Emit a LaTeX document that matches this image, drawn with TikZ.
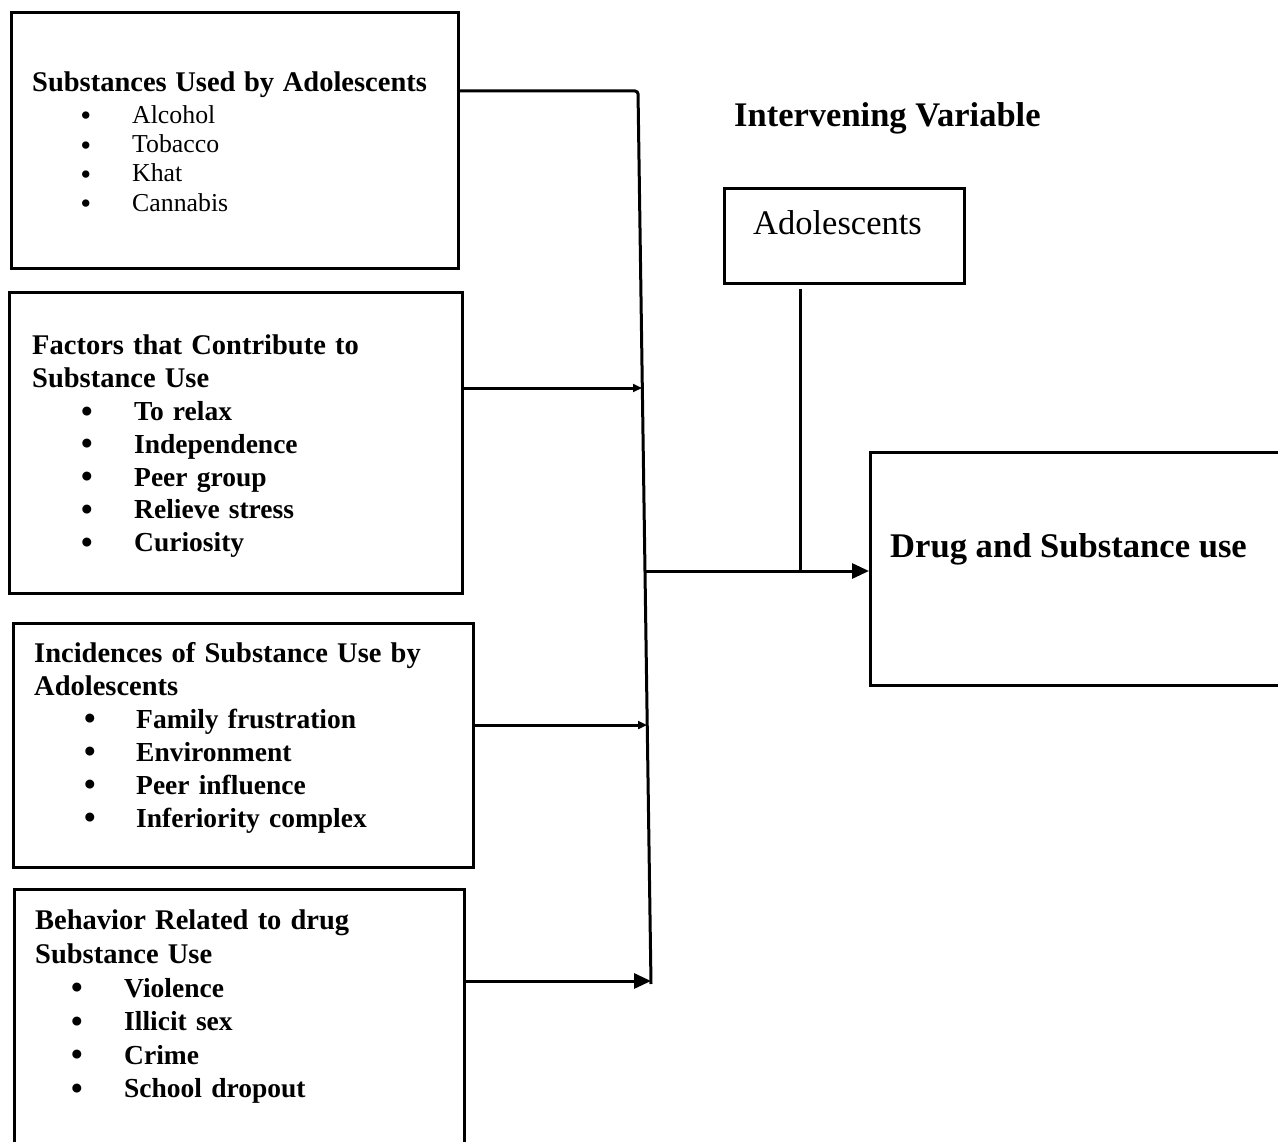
\documentclass[tikz,border=0pt]{standalone}
\usepackage{fontspec}
\setmainfont{Liberation Serif}
\usetikzlibrary{arrows.meta}

% heading line and bullet line of a list
\newcommand{\hdg}[1]{{\fontsize{28.5}{30}\selectfont\bfseries #1}}
\newcommand{\itm}[4][33]{\hspace*{#2pt}\makebox[#3pt][l]{\raisebox{-1.5pt}{\fontsize{#1}{#1}\selectfont\bfseries\textbullet}}#4}

\begin{document}
\begin{tikzpicture}[
        x=1pt, y=-1pt,
        frameBox/.style={
            draw,
            line width=2.6pt,
            inner sep=0pt,
            anchor=north west
        },
        listText/.style={
            anchor=north west,
            inner sep=0pt,
            align=left,
            text width=420pt
        },
        bigText/.style={
            anchor=base west,
            inner sep=0pt,
            font=\fontsize{34.5}{40}\selectfont
        },
        wire/.style={
            line width=3pt
        },
        bigTip/.style={
            -{Triangle[length=17pt,width=15pt]}
        },
        smallTip/.style={
            -{Triangle[length=9pt,width=8pt]}
        }
    ]

        \useasboundingbox (0,0) rectangle (1278,1142);
        \clip (0,0) rectangle (1278,1142);
        \fill[white] (0,0) rectangle (1278,1142);

        % independent variables
        \node[frameBox, minimum width=447pt, minimum height=256pt] (used) at (10,11) {};
        \node[frameBox, minimum width=453pt, minimum height=301pt] (factors) at (8,291) {};
        \node[frameBox, minimum width=460pt, minimum height=244pt] (incid) at (12,622) {};
        \node[frameBox, minimum width=450pt, minimum height=300pt] (behav) at (13,888) {};

        \node[listText, font=\fontsize{25.8}{29.3}\selectfont] (usedList) at (32,72) {%
            \hdg{Substances Used by Adolescents}\\[2pt]
            \itm[27]{49}{51}{Alcohol}\\
            \itm[27]{49}{51}{Tobacco}\\
            \itm[27]{49}{51}{Khat}\\
            \itm[27]{49}{51}{Cannabis}};

        \node[listText, font=\fontsize{27.5}{32.8}\selectfont\bfseries] (factorsList) at (32,335) {%
            \hdg{Factors that Contribute to}\\
            \hdg{Substance Use}\\
            \itm{49}{53}{To relax}\\
            \itm{49}{53}{Independence}\\
            \itm{49}{53}{Peer group}\\
            \itm{49}{53}{Relieve stress}\\
            \itm{49}{53}{Curiosity}};

        \node[listText, font=\fontsize{27.5}{33}\selectfont\bfseries] (incidList) at (34,642) {%
            \hdg{Incidences of Substance Use by}\\
            \hdg{Adolescents}\\
            \itm{50}{52}{Family frustration}\\
            \itm{50}{52}{Environment}\\
            \itm{50}{52}{Peer influence}\\
            \itm{50}{52}{Inferiority complex}};

        \node[listText, font=\fontsize{27.5}{33.6}\selectfont\bfseries] (behavList) at (35,910) {%
            \hdg{Behavior Related to drug}\\
            \hdg{Substance Use}\\
            \itm{36}{53}{Violence}\\
            \itm{36}{53}{Illicit sex}\\
            \itm{36}{53}{Crime}\\
            \itm{36}{53}{School dropout}};

        % intervening variable and outcome
        \node[bigText, font=\fontsize{34.5}{40}\selectfont\bfseries] (interv) at (734,127) {Intervening Variable};
        \node[frameBox, minimum width=240pt, minimum height=95pt] (adol) at (723,187) {};
        \node[bigText] (adolText) at (753,235) {Adolescents};

        \node[frameBox, minimum width=430pt, minimum height=233pt] (drug) at (869,451) {};
        \node[bigText, font=\fontsize{34.6}{40}\selectfont\bfseries] (drugText) at (890,557) {Drug and Substance use};

        % connectors
        \coordinate (busTop) at (638,91);
        \coordinate (busBot) at (651,984);
        \coordinate (inFactors) at (642,388);
        \coordinate (inIncid) at (647,725);
        \coordinate (inBehav) at (651,981);
        \coordinate (outMid) at (646,571);
        \coordinate (crossMid) at (800,571);

        \draw[wire, rounded corners=3pt] (used.east |- busTop) -- (busTop) -- (busBot);
        \draw[wire, smallTip] (factors.east |- inFactors) -- (inFactors);
        \draw[wire, smallTip] (incid.east |- inIncid) -- (inIncid);
        \draw[wire, bigTip] (behav.east |- inBehav) -- (inBehav);
        \draw[wire, bigTip] (outMid) -- (drug.west |- outMid);
        \draw[wire] ([yshift=-4pt]adol.south -| crossMid) -- (crossMid);

    \end{tikzpicture}
\end{document}
